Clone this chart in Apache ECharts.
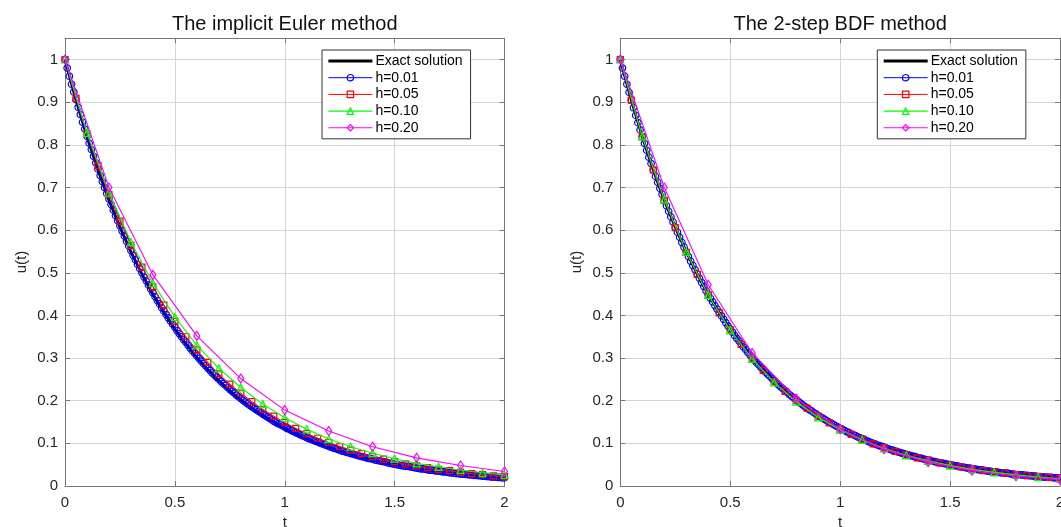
<!DOCTYPE html>
<html>
<head>
<meta charset="utf-8">
<title>Implicit Euler vs 2-step BDF</title>
<script src="https://cdn.jsdelivr.net/npm/echarts@6/dist/echarts.min.js"></script>
<style>
  html, body { margin: 0; padding: 0; background: #ffffff; }
  #chart { width: 1061px; height: 527px; }
</style>
</head>
<body>
<div id="chart"></div>
<script>
// Time ranges and step sizes
const T_MIN = 0, T_MAX = 2;
const STEPS = [0.05, 0.01, 0.05, 0.10, 0.20]; // exact curve is sampled every 0.05
const SERIES_NAMES = ['Exact solution', 'h=0.01', 'h=0.05', 'h=0.10', 'h=0.20'];
const TITLES = ['The implicit Euler method', 'The 2-step BDF method'];
const X_TICKS = [0, 0.5, 1, 1.5, 2];
const Y_TICKS = [0, 0.1, 0.2, 0.3, 0.4, 0.5, 0.6, 0.7, 0.8, 0.9, 1];

// Exact solution u(t), t = 0, 0.05, ..., 2
const EXACT = [1, 0.905, 0.819, 0.741, 0.670, 0.607, 0.549, 0.497, 0.449, 0.407,
  0.368, 0.333, 0.301, 0.273, 0.247, 0.223, 0.202, 0.183, 0.165, 0.150,
  0.135, 0.122, 0.111, 0.100, 0.091, 0.082, 0.074, 0.067, 0.061, 0.055,
  0.050, 0.045, 0.041, 0.037, 0.033, 0.030, 0.027, 0.025, 0.022, 0.020, 0.018];

// Implicit Euler, h = 0.01
const EULER_H001 = [1, 0.980, 0.961, 0.942, 0.924, 0.906, 0.888, 0.871, 0.853, 0.837,
  0.820, 0.804, 0.789, 0.773, 0.758, 0.743, 0.728, 0.714, 0.700, 0.686,
  0.673, 0.660, 0.647, 0.634, 0.622, 0.610, 0.598, 0.586, 0.574, 0.563,
  0.552, 0.541, 0.531, 0.520, 0.510, 0.500, 0.490, 0.481, 0.471, 0.462,
  0.453, 0.444, 0.435, 0.427, 0.418, 0.410, 0.402, 0.394, 0.387, 0.379,
  0.372, 0.364, 0.357, 0.350, 0.343, 0.337, 0.330, 0.323, 0.317, 0.311,
  0.305, 0.299, 0.293, 0.287, 0.282, 0.276, 0.271, 0.265, 0.260, 0.255,
  0.250, 0.245, 0.240, 0.236, 0.231, 0.226, 0.222, 0.218, 0.213, 0.209,
  0.205, 0.201, 0.197, 0.193, 0.189, 0.186, 0.182, 0.179, 0.175, 0.172,
  0.168, 0.165, 0.162, 0.159, 0.155, 0.152, 0.149, 0.146, 0.144, 0.141,
  0.138, 0.135, 0.133, 0.130, 0.128, 0.125, 0.123, 0.120, 0.118, 0.116,
  0.113, 0.111, 0.109, 0.107, 0.105, 0.103, 0.101, 0.099, 0.097, 0.095,
  0.093, 0.091, 0.089, 0.088, 0.086, 0.084, 0.082, 0.081, 0.079, 0.078,
  0.076, 0.075, 0.073, 0.072, 0.070, 0.069, 0.068, 0.066, 0.065, 0.064,
  0.063, 0.061, 0.060, 0.059, 0.058, 0.057, 0.056, 0.054, 0.053, 0.052,
  0.051, 0.050, 0.049, 0.048, 0.047, 0.046, 0.046, 0.045, 0.044, 0.043,
  0.042, 0.041, 0.040, 0.040, 0.039, 0.038, 0.037, 0.037, 0.036, 0.035,
  0.035, 0.034, 0.033, 0.033, 0.032, 0.031, 0.031, 0.030, 0.029, 0.029,
  0.028, 0.028, 0.027, 0.027, 0.026, 0.026, 0.025, 0.025, 0.024, 0.024,
  0.023, 0.023, 0.022, 0.022, 0.021, 0.021, 0.021, 0.020, 0.020, 0.019,
  0.019];

// Implicit Euler, h = 0.05
const EULER_H005 = [1, 0.909, 0.826, 0.751, 0.683, 0.621, 0.564, 0.513, 0.467, 0.424,
  0.386, 0.350, 0.319, 0.290, 0.263, 0.239, 0.218, 0.198, 0.180, 0.164,
  0.149, 0.135, 0.123, 0.112, 0.102, 0.092, 0.084, 0.076, 0.069, 0.063,
  0.057, 0.052, 0.047, 0.043, 0.039, 0.036, 0.032, 0.029, 0.027, 0.024, 0.022];

// Implicit Euler, h = 0.10
const EULER_H010 = [1, 0.828, 0.688, 0.572, 0.476, 0.396, 0.330, 0.276, 0.231, 0.192,
  0.160, 0.133, 0.110, 0.092, 0.077, 0.064, 0.053, 0.045, 0.037, 0.031, 0.026];

// Implicit Euler, h = 0.20
const EULER_H020 = [1, 0.700, 0.495, 0.352, 0.252, 0.178, 0.129, 0.092, 0.066, 0.048, 0.034];

// 2-step BDF, h = 0.01
const BDF_H001 = [1, 0.980, 0.961, 0.942, 0.923, 0.905, 0.887, 0.869, 0.852, 0.835,
  0.819, 0.803, 0.787, 0.771, 0.756, 0.741, 0.726, 0.712, 0.698, 0.684,
  0.670, 0.657, 0.644, 0.631, 0.619, 0.607, 0.595, 0.583, 0.571, 0.560,
  0.549, 0.538, 0.527, 0.517, 0.507, 0.497, 0.487, 0.477, 0.468, 0.458,
  0.449, 0.440, 0.432, 0.423, 0.415, 0.407, 0.399, 0.391, 0.383, 0.375,
  0.368, 0.361, 0.353, 0.346, 0.340, 0.333, 0.326, 0.320, 0.313, 0.307,
  0.301, 0.295, 0.289, 0.284, 0.278, 0.273, 0.267, 0.262, 0.257, 0.252,
  0.247, 0.242, 0.237, 0.232, 0.228, 0.223, 0.219, 0.214, 0.210, 0.206,
  0.202, 0.198, 0.194, 0.190, 0.186, 0.183, 0.179, 0.176, 0.172, 0.169,
  0.165, 0.162, 0.159, 0.156, 0.153, 0.150, 0.147, 0.144, 0.141, 0.138,
  0.135, 0.133, 0.130, 0.127, 0.125, 0.122, 0.120, 0.118, 0.115, 0.113,
  0.111, 0.109, 0.106, 0.104, 0.102, 0.100, 0.098, 0.096, 0.094, 0.093,
  0.091, 0.089, 0.087, 0.085, 0.084, 0.082, 0.080, 0.079, 0.077, 0.076,
  0.074, 0.073, 0.071, 0.070, 0.069, 0.067, 0.066, 0.065, 0.063, 0.062,
  0.061, 0.060, 0.058, 0.057, 0.056, 0.055, 0.054, 0.053, 0.052, 0.051,
  0.050, 0.049, 0.048, 0.047, 0.046, 0.045, 0.044, 0.043, 0.042, 0.042,
  0.041, 0.040, 0.039, 0.038, 0.038, 0.037, 0.036, 0.035, 0.035, 0.034,
  0.033, 0.033, 0.032, 0.031, 0.031, 0.030, 0.030, 0.029, 0.028, 0.028,
  0.027, 0.027, 0.026, 0.026, 0.025, 0.025, 0.024, 0.024, 0.023, 0.023,
  0.022, 0.022, 0.021, 0.021, 0.021, 0.020, 0.020, 0.019, 0.019, 0.019,
  0.018];

// 2-step BDF, h = 0.05
const BDF_H005 = [1, 0.905, 0.819, 0.741, 0.670, 0.606, 0.548, 0.496, 0.448, 0.406,
  0.367, 0.332, 0.300, 0.271, 0.245, 0.222, 0.201, 0.182, 0.164, 0.148,
  0.134, 0.121, 0.110, 0.099, 0.090, 0.081, 0.073, 0.066, 0.060, 0.054,
  0.049, 0.045, 0.040, 0.036, 0.033, 0.030, 0.027, 0.024, 0.022, 0.020, 0.018];

// 2-step BDF, h = 0.10
const BDF_H010 = [1, 0.820, 0.672, 0.549, 0.448, 0.365, 0.298, 0.243, 0.198, 0.161,
  0.132, 0.108, 0.088, 0.072, 0.059, 0.048, 0.039, 0.032, 0.026, 0.021, 0.017];

// 2-step BDF, h = 0.20
const BDF_H020 = [1, 0.700, 0.472, 0.312, 0.205, 0.133, 0.086, 0.056, 0.036, 0.023, 0.015];

const PANELS = [
  [EXACT, EULER_H001, EULER_H005, EULER_H010, EULER_H020],
  [EXACT, BDF_H001, BDF_H005, BDF_H010, BDF_H020]
];

// ---- styling ----
const FONT = '"Liberation Sans", Arial, Helvetica, sans-serif';
const AXIS_COLOR = '#777777';
const GRID_COLOR = '#d6d6d6';
const TEXT_COLOR = '#262626';
const COLORS = ['#000000', '#0000ff', '#ff0000', '#00ff00', '#ff00ff'];
const SYMBOLS = ['none', 'circle', 'rect', 'triangle', 'diamond'];
const SYMBOL_SIZES = [0, 6.5, 6, 7, [6, 9]];
const SYMBOL_BORDERS = [0, 1.2, 1.2, 1.2, 1.2];
const LINE_WIDTHS = [2.8, 1, 1, 1.1, 1.1];

const GRIDS = [
  { left: 65, top: 38.2, width: 439.5, height: 447.8 },
  { left: 620.3, top: 38.2, width: 439.7, height: 447.8 }
];

function toPairs(step, values) {
  return values.map((v, i) => [Number((i * step).toFixed(2)), v]);
}

const xAxes = [], yAxes = [], series = [], legends = [], graphics = [];

GRIDS.forEach((g, gi) => {
  // bottom axis with labels and grid lines
  xAxes.push({
    gridIndex: gi, type: 'value', position: 'bottom', min: T_MIN, max: T_MAX, interval: 0.5,
    axisLine: { show: true, onZero: false, lineStyle: { color: AXIS_COLOR, width: 1 } },
    axisTick: { show: true, inside: true, length: 5, lineStyle: { color: AXIS_COLOR } },
    axisLabel: {
      show: true, margin: 9, color: TEXT_COLOR, fontSize: 15, fontFamily: FONT,
      formatter: v => (X_TICKS.indexOf(v) >= 0 ? String(v) : '')
    },
    splitLine: { show: true, lineStyle: { color: GRID_COLOR, width: 1 } },
    name: 't', nameLocation: 'middle', nameGap: 29,
    nameTextStyle: { color: TEXT_COLOR, fontSize: 15, fontFamily: FONT }
  });
  // top frame edge
  xAxes.push({
    gridIndex: gi, type: 'value', position: 'top', min: T_MIN, max: T_MAX, interval: 0.5,
    axisLine: { show: true, onZero: false, lineStyle: { color: AXIS_COLOR, width: 1 } },
    axisTick: { show: true, inside: true, length: 5, lineStyle: { color: AXIS_COLOR } },
    axisLabel: { show: false }, splitLine: { show: false }
  });
  // left axis with labels and grid lines
  yAxes.push({
    gridIndex: gi, type: 'value', position: 'left', min: 0, max: 1.05, interval: 0.1,
    axisLine: { show: true, onZero: false, lineStyle: { color: AXIS_COLOR, width: 1 } },
    axisTick: { show: true, inside: true, length: 5, lineStyle: { color: AXIS_COLOR } },
    axisLabel: {
      show: true, margin: 7, color: TEXT_COLOR, fontSize: 15, fontFamily: FONT,
      showMaxLabel: false,
      formatter: v => {
        const r = Math.round(v * 10) / 10;
        return Y_TICKS.indexOf(r) >= 0 && Math.abs(r - v) < 1e-6 ? String(r) : '';
      }
    },
    splitLine: { show: true, lineStyle: { color: GRID_COLOR, width: 1 } },
    name: 'u(t)', nameLocation: 'middle', nameGap: 36, nameRotate: 90,
    nameTextStyle: { color: TEXT_COLOR, fontSize: 15, fontFamily: FONT }
  });
  // right frame edge
  yAxes.push({
    gridIndex: gi, type: 'value', position: 'right', min: 0, max: 1.05, interval: 0.1,
    axisLine: { show: true, onZero: false, lineStyle: { color: AXIS_COLOR, width: 1 } },
    axisTick: { show: true, inside: true, length: 5, lineStyle: { color: AXIS_COLOR } },
    axisLabel: { show: false }, splitLine: { show: false }
  });

  PANELS[gi].forEach((values, si) => {
    const hasSymbol = SYMBOLS[si] !== 'none';
    series.push({
      type: 'line', name: SERIES_NAMES[si],
      xAxisIndex: gi * 2, yAxisIndex: gi * 2,
      data: toPairs(STEPS[si], values),
      symbol: SYMBOLS[si], symbolSize: SYMBOL_SIZES[si], showSymbol: hasSymbol,
      lineStyle: { color: COLORS[si], width: LINE_WIDTHS[si] },
      // hollow markers; the exact curve has no marker at all
      itemStyle: {
        color: 'rgba(0,0,0,0)',
        borderColor: hasSymbol ? COLORS[si] : 'rgba(0,0,0,0)',
        borderWidth: SYMBOL_BORDERS[si]
      },
      color: COLORS[si],
      smooth: false, clip: true, silent: true, animation: false,
      emphasis: { disabled: true }, z: 2 + si
    });
  });

  legends.push({
    orient: 'vertical', left: g.left + 257, top: 50,
    padding: [4, 8, 4, 5], itemWidth: 44, itemHeight: 8, itemGap: 2.7,
    backgroundColor: '#ffffff', borderColor: '#333333', borderWidth: 1, borderRadius: 0,
    textStyle: { color: '#000000', fontSize: 14, fontFamily: FONT, padding: [0, 0, 0, -2] },
    lineStyle: { width: 'inherit' },
    itemStyle: { borderWidth: 'inherit', color: 'inherit', borderColor: 'inherit' },
    selectedMode: false, data: SERIES_NAMES, z: 20
  });

  graphics.push({
    type: 'text', x: g.left + g.width / 2, y: 24, z: 30,
    style: { text: TITLES[gi], fill: '#111111', font: '20px ' + FONT, align: 'center', verticalAlign: 'middle' }
  });
});

const chart = echarts.init(document.getElementById('chart'), null, { renderer: 'canvas' });
chart.setOption({
  backgroundColor: '#ffffff',
  animation: false,
  // plot boxes are placed exactly; labels may run to the page edge
  grid: GRIDS.map(g => Object.assign({ containLabel: false, outerBoundsMode: 'none' }, g)),
  xAxis: xAxes,
  yAxis: yAxes,
  legend: legends,
  series: series,
  graphic: graphics,
  tooltip: { show: false }
});
</script>
</body>
</html>
